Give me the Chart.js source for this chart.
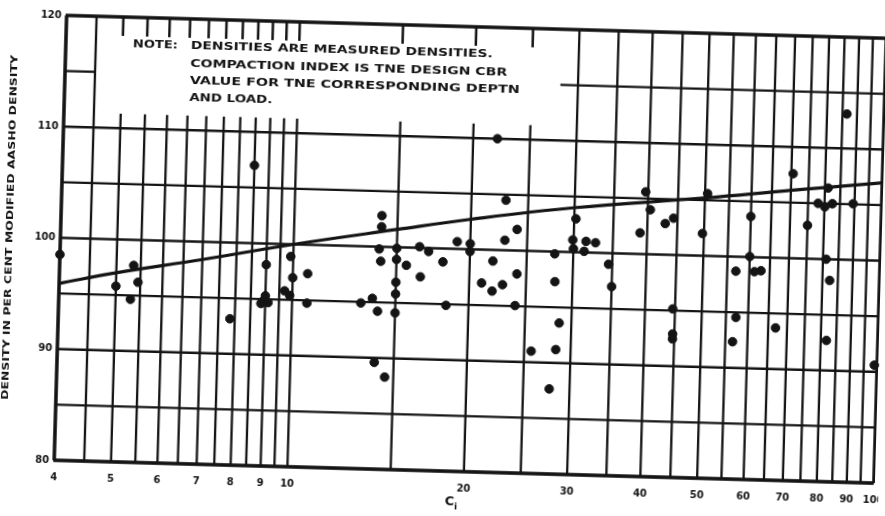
<!DOCTYPE html>
<html>
<head>
<meta charset="utf-8">
<script src="https://cdn.jsdelivr.net/npm/chart.js@4.4.0/dist/chart.umd.min.js"></script>
<style>
    html, body { margin: 0; padding: 0; background: #fff; overflow: hidden; }
    #wrap { width: 885px; height: 516px; transform: rotate(1.6deg); }
</style>
</head>
<body>
<div id="wrap"><canvas id="chart" width="885" height="516"></canvas></div>
<script>

// measured densities vs compaction index
const ciValues = [
    4.0, 5.0, 5.3, 5.35, 5.45, 7.85, 8.5, 8.85, 8.95, 9.0,
    9.1, 9.0, 9.7, 9.9, 9.9, 10.0, 10.6, 10.6, 13.1, 13.7,
    14.0, 13.9, 14.5, 14.1, 14.1, 14.0, 14.1, 15.0, 15.0, 15.6,
    16.4, 17.0, 16.5, 18.0, 19.0, 20.0, 20.0, 15.0, 15.0, 15.0,
    18.3, 22.0, 22.9, 24.0, 22.9, 21.9, 21.0, 21.9, 22.8, 24.1,
    24.0, 25.7, 27.7, 27.9, 28.0, 28.6, 28.3, 30.2, 29.9, 30.0,
    31.5, 32.7, 31.3, 34.5, 35.0, 39.6, 40.4, 38.9, 42.9, 44.3,
    44.6, 44.7, 44.7, 50.5, 49.7, 60.0, 60.0, 56.9, 61.2, 62.8,
    57.2, 56.6, 66.9, 70.5, 75.0, 78.0, 80.1, 82.5, 89.5, 81.0,
    81.0, 82.3, 81.8, 86.5, 99.0
];
const densityValues = [
    98.5, 95.8, 94.65, 97.7, 96.2, 93.15, 107.0, 94.6, 94.9, 95.3,
    94.7, 98.1, 95.8, 95.4, 98.9, 97.0, 97.4, 94.75, 94.9, 95.35,
    94.2, 89.6, 88.3, 102.8, 101.8, 99.8, 98.7, 99.9, 98.9, 98.4,
    100.1, 99.7, 97.4, 98.8, 100.65, 100.5, 99.8, 96.85, 95.8, 94.1,
    94.9, 110.0, 104.5, 101.9, 100.9, 99.0, 97.0, 96.3, 96.9, 97.9,
    95.05, 91.0, 87.65, 99.8, 97.3, 93.6, 91.2, 103.0, 101.1, 100.3,
    101.0, 100.9, 100.1, 99.0, 97.0, 105.6, 104.0, 101.9, 102.8, 103.3,
    95.15, 92.9, 92.45, 105.6, 102.0, 103.65, 100.05, 98.7, 98.7, 98.8,
    94.55, 92.35, 93.7, 107.6, 103.0, 105.0, 104.7, 105.0, 105.05, 106.4,
    100.0, 98.1, 92.7, 113.1, 90.6
];

// design curve
const curveCi = [4, 5, 7, 10, 15, 20, 30, 50, 70, 100];
const curveDensity = [95.9, 97.0, 98.4, 100.0, 101.6, 102.7, 104.0, 105.2, 106.1, 107.0];

const xTickLabels = [4, 5, 6, 7, 8, 9, 10, 20, 30, 40, 50, 60, 70, 80, 90, 100];
const yTickLabels = [80, 90, 100, 110, 120];
const xGridLines = [4, 4.5, 5, 5.5, 6, 6.5, 7, 7.5, 8, 8.5, 9, 9.5, 10, 15, 20, 25,
    30, 35, 40, 45, 50, 55, 60, 65, 70, 75, 80, 85, 90, 95, 100];
const yGridLines = [80, 85, 90, 95, 100, 105, 110];

const noteLines = [
    'DENSITIES ARE MEASURED DENSITIES.',
    'COMPACTION INDEX IS TNE DESIGN CBR',
    'VALUE FOR TNE CORRESPONDING DEPTN',
    'AND LOAD.'
];
const yTitle = 'DENSITY IN PER CENT MODIFIED AASHO DENSITY';

const ink = '#141414';
const labelFont = 'bold 10px "DejaVu Sans"';

// text squeezed / stretched to a given width
const fitText = (ctx, str, x, y, width) => {
    const w = ctx.measureText(str).width;
    ctx.save();
    ctx.translate(x, y);
    ctx.scale(width / w, 1);
    ctx.fillText(str, 0, 0);
    ctx.restore();
};

const paperGrid = {
    id: 'paperGrid',
    beforeDatasetsDraw(chart) {
        const { ctx, scales: { x, y } } = chart;
        const line = (x1, y1, x2, y2, w) => {
            ctx.lineWidth = w;
            ctx.beginPath();
            ctx.moveTo(x1, y1);
            ctx.lineTo(x2, y2);
            ctx.stroke();
        };
        ctx.save();
        ctx.strokeStyle = ink;

        yGridLines.forEach(v => {
            const py = y.getPixelForValue(v);
            line(x.left, py, x.right, py, 2.3);
        });
        // 115 only outside the note box
        const p115 = y.getPixelForValue(115);
        line(x.getPixelForValue(4), p115, x.getPixelForValue(4.5), p115, 2.3);
        line(x.getPixelForValue(28), p115, x.right, p115, 2.3);

        xGridLines.forEach(v => {
            const px = x.getPixelForValue(v);
            if (v <= 4.5 || v >= 30) {
                line(px, y.top, px, y.bottom, 2.3);
            } else {
                line(px, y.getPixelForValue(111.3), px, y.bottom, 2.3);
                line(px, y.top, px, y.getPixelForValue(118.3), 2.5);
            }
        });

        // frame
        line(x.left - 1, y.top, x.right, y.top, 3.5);
        line(x.left, y.top, x.left, y.bottom, 3.5);
        line(x.left - 1, y.bottom, x.right, y.bottom, 3.5);
        line(x.right, y.top, x.right, y.bottom, 2.5);
        ctx.restore();
    },
    afterDraw(chart) {
        const { ctx, scales: { x, y } } = chart;
        ctx.save();
        ctx.fillStyle = ink;
        ctx.font = labelFont;
        ctx.textBaseline = 'middle';

        // tick labels
        ctx.textAlign = 'right';
        yTickLabels.forEach(v => ctx.fillText(String(v), x.left - 5, y.getPixelForValue(v)));
        ctx.textAlign = 'center';
        xTickLabels.forEach(v => ctx.fillText(String(v), x.getPixelForValue(v), y.bottom + 17));

        // axis titles
        ctx.font = 'bold 13px "DejaVu Sans"';
        ctx.textAlign = 'right';
        ctx.fillText('C', 461, 502);
        ctx.font = 'bold 9px "DejaVu Sans"';
        ctx.textAlign = 'left';
        ctx.fillText('i', 461, 507);

        ctx.font = 'bold 9px "DejaVu Sans"';
        ctx.textAlign = 'left';
        ctx.save();
        ctx.translate(10, 240);
        ctx.rotate(-Math.PI / 2);
        fitText(ctx, yTitle, -172, 0, 345);
        ctx.restore();

        // note
        ctx.font = 'bold 10px "DejaVu Sans"';
        fitText(ctx, 'NOTE:', 127, 53, 45);
        const widths = [302, 317, 330, 83];
        const rows = [53, 71, 88, 105];
        noteLines.forEach((s, i) => fitText(ctx, s, 185, rows[i], widths[i]));
        ctx.restore();
    }
};

new Chart(document.getElementById('chart'), {
    data: {
        datasets: [
            {
                type: 'line',
                data: curveCi.map((c, i) => ({ x: c, y: curveDensity[i] })),
                borderColor: ink,
                borderWidth: 3.2,
                pointRadius: 0,
                tension: 0.4,
                fill: false
            },
            {
                type: 'scatter',
                data: ciValues.map((c, i) => ({ x: c, y: densityValues[i] })),
                backgroundColor: ink,
                borderColor: ink,
                pointRadius: 4.3,
                pointHoverRadius: 4.3,
                clip: 6
            }
        ]
    },
    options: {
        responsive: false,
        animation: false,
        devicePixelRatio: 1,
        layout: { padding: { left: 60, right: 4, top: 26, bottom: 45 } },
        plugins: { legend: { display: false }, tooltip: { enabled: false } },
        scales: {
            x: { type: 'logarithmic', min: 4, max: 100, display: false },
            y: { type: 'linear', min: 80, max: 120, display: false }
        }
    },
    plugins: [paperGrid]
});
</script>
</body>
</html>
